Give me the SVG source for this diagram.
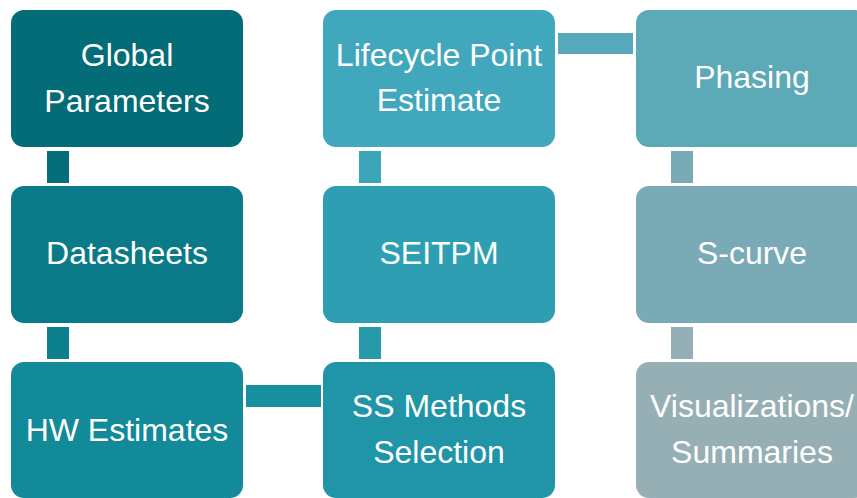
<svg xmlns="http://www.w3.org/2000/svg" width="857" height="498" viewBox="0 0 857 498">
  <style>
    .box { stroke: none; }
    .lbl { font-family: "Liberation Sans", Arial, sans-serif; font-size: 32px; fill: #ffffff; text-anchor: middle; }
  </style>
  <rect width="857" height="498" fill="#ffffff"/>

  <!-- connectors -->
  <g id="connectors">
    <rect x="47" y="151" width="22" height="32" fill="#046f7b"/>
    <rect x="47" y="327" width="22" height="32" fill="#0d808e"/>
    <rect x="246" y="385" width="75" height="22" fill="#178f9e"/>
    <rect x="359" y="327" width="22" height="32" fill="#2799ab"/>
    <rect x="359" y="151" width="22" height="32" fill="#3aa5b8"/>
    <rect x="558" y="33" width="75" height="21" fill="#55a9bb"/>
    <rect x="671" y="151" width="22" height="32" fill="#78aab6"/>
    <rect x="671" y="327" width="22" height="32" fill="#94afb5"/>
  </g>

  <g id="global-parameters">
    <rect class="box" x="11" y="10" width="232" height="137" rx="13" fill="#036c77"/>
    <text class="lbl" x="127" y="66">Global</text>
    <text class="lbl" x="127" y="112">Parameters</text>
  </g>
  <g id="datasheets">
    <rect class="box" x="11" y="186" width="232" height="137" rx="13" fill="#0b7a88"/>
    <text class="lbl" x="127" y="264">Datasheets</text>
  </g>
  <g id="hw-estimates">
    <rect class="box" x="11" y="362" width="232" height="136" rx="13" fill="#138a99"/>
    <text class="lbl" x="127" y="441">HW Estimates</text>
  </g>
  <g id="ss-methods-selection">
    <rect class="box" x="323" y="362" width="232" height="136" rx="13" fill="#2095a8"/>
    <text class="lbl" x="439" y="417">SS Methods</text>
    <text class="lbl" x="439" y="463">Selection</text>
  </g>
  <g id="seitpm">
    <rect class="box" x="323" y="186" width="232" height="137" rx="13" fill="#2e9fb2"/>
    <text class="lbl" x="439" y="264">SEITPM</text>
  </g>
  <g id="lifecycle-point-estimate">
    <rect class="box" x="323" y="10" width="232" height="137" rx="13" fill="#40a7bc"/>
    <text class="lbl" x="439" y="66">Lifecycle Point</text>
    <text class="lbl" x="439" y="111">Estimate</text>
  </g>
  <g id="phasing">
    <rect class="box" x="636" y="10" width="232" height="137" rx="13" fill="#5ca9b8"/>
    <text class="lbl" x="752" y="88">Phasing</text>
  </g>
  <g id="s-curve">
    <rect class="box" x="636" y="186" width="232" height="137" rx="13" fill="#7aaab6"/>
    <text class="lbl" x="752" y="264">S-curve</text>
  </g>
  <g id="visualizations-summaries">
    <rect class="box" x="636" y="362" width="232" height="136" rx="13" fill="#96afb5"/>
    <text class="lbl" x="752" y="417">Visualizations/</text>
    <text class="lbl" x="752" y="463">Summaries</text>
  </g>
</svg>
